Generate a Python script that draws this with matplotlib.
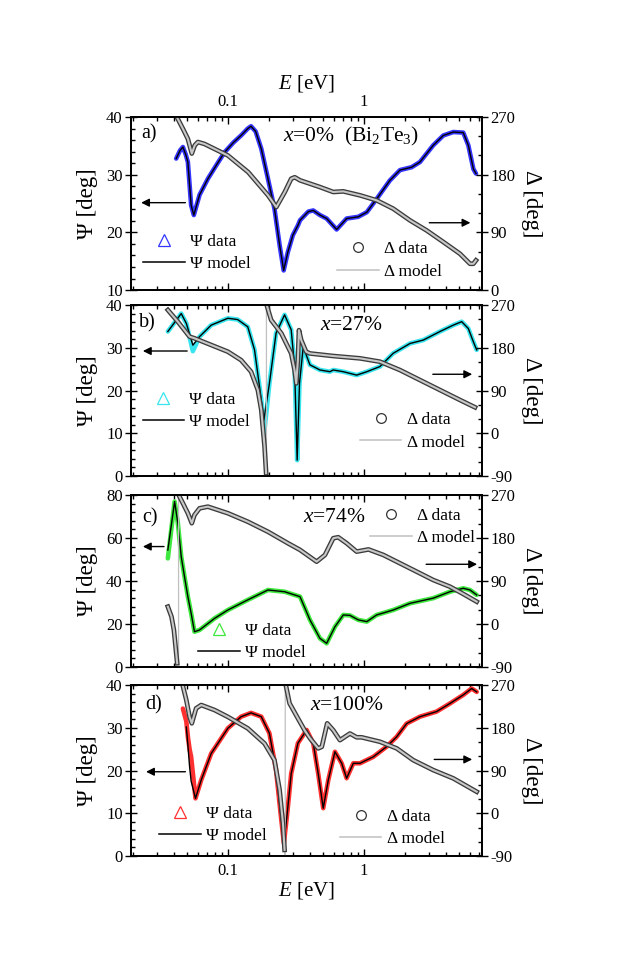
import numpy as np
import matplotlib
matplotlib.use('Agg')
import matplotlib.pyplot as plt
import matplotlib.patheffects as pe
from matplotlib.lines import Line2D
from matplotlib.ticker import MultipleLocator, FixedLocator, FixedFormatter, LogLocator, NullFormatter

plt.rcParams['font.family'] = ['Liberation Serif', 'DejaVu Serif']
plt.rcParams['mathtext.fontset'] = 'custom'
plt.rcParams['mathtext.rm'] = 'Liberation Serif'
plt.rcParams['mathtext.it'] = 'Liberation Serif:italic'
plt.rcParams['axes.unicode_minus'] = False

# ---- panel a) x=0% (Bi2Te3)
E_psi_a = [0.0417, 0.0445, 0.0467, 0.0490, 0.0508, 0.0537, 0.0562, 0.0619, 0.0713, 0.0830,
           0.0946, 0.110, 0.125, 0.140, 0.148, 0.160, 0.176, 0.197, 0.220, 0.240,
           0.257, 0.276, 0.300, 0.327, 0.339, 0.390, 0.424, 0.475, 0.532, 0.630,
           0.746, 0.908, 1.05, 1.24, 1.55, 1.84, 2.24, 2.58, 3.23, 3.83,
           4.54, 5.37, 5.85, 6.37, 6.66]
psi_data_a = [32.8, 34.2, 34.8, 33.5, 32.2, 24.7, 23.0, 26.5, 29.3, 31.8,
              33.9, 35.6, 36.8, 38.0, 38.4, 37.5, 34.5, 29.3, 24.1, 17.8,
              13.4, 16.6, 19.5, 21.2, 22.1, 23.6, 23.8, 23.0, 22.4, 20.5,
              22.4, 22.7, 23.5, 25.8, 29.0, 30.8, 31.3, 32.2, 35.1, 36.8,
              37.4, 37.3, 35.1, 31.0, 30.2]
psi_model_a = psi_data_a
E_del_a = [0.0417, 0.0467, 0.0508, 0.0543, 0.0571, 0.0602, 0.0673, 0.100, 0.141, 0.197,
           0.227, 0.262, 0.292, 0.310, 0.339, 0.475, 0.595, 0.705, 0.935, 1.24,
           1.64, 2.18, 2.89, 3.83, 5.08, 6.02, 6.37, 6.66]
del_a = [272, 251.7, 236, 213, 225.8, 231, 228, 210, 184, 148,
         129.5, 153, 173.7, 176, 171.2, 160.7, 153, 154, 147.8, 140,
         127, 108.7, 93, 75, 56.6, 41, 41, 46.3]

# ---- panel b) x=27%
E_psi_b = [0.0362, 0.0454, 0.0495, 0.0553, 0.0619, 0.0754, 0.100, 0.118, 0.140, 0.157,
           0.176, 0.184, 0.202, 0.226, 0.261, 0.292, 0.309, 0.323, 0.336, 0.358,
           0.401, 0.475, 0.562, 0.595, 0.705, 0.884, 1.05, 1.31, 1.64, 2.18,
           2.73, 3.62, 4.54, 5.23, 5.85, 6.37, 6.74]
psi_data_b = [33.8, 38.0, 35.7, 29.2, 32.6, 35.3, 36.9, 36.6, 34.9, 29.5,
              17.8, 9.5, 21.7, 33.4, 37.7, 34.2, 25.6, 3.7, 21.7, 30.2,
              26.0, 24.8, 24.4, 24.8, 24.4, 23.6, 24.4, 25.6, 28.7, 31.0,
              31.8, 33.8, 35.3, 36.1, 34.5, 31.4, 29.5]
psi_model_b = [33.8, 38.0, 35.7, 30.6, 32.6, 35.3, 36.9, 36.6, 34.9, 29.5,
               17.8, 13.1, 21.7, 33.4, 37.7, 34.2, 25.6, 3.7, 21.7, 30.2,
               26.0, 24.8, 24.4, 24.8, 24.4, 23.6, 24.4, 25.6, 28.7, 31.0,
               31.8, 33.8, 35.3, 36.1, 34.5, 31.4, 29.5]
E_del_b_low = [0.0362, 0.0429, 0.0523, 0.0568, 0.0754, 0.100, 0.125, 0.148, 0.166, 0.176, 0.186, 0.191]
del_b_low = [259.5, 234.8, 203.3, 200, 185.8, 171.7, 154, 129.6, 91, 49, -28, -84]
E_wrap_b = 0.192
E_del_b_high = [0.1945, 0.208, 0.247, 0.292, 0.309, 0.318, 0.327, 0.333, 0.346, 0.376,
                0.401, 0.595, 0.935, 1.31, 1.84, 2.58, 3.62, 5.08, 6.55]
del_b_high = [266.5, 238.4, 210.4, 168, 133, 105, 154, 217, 196, 171.7,
              168, 162.6, 157.7, 150.7, 133, 112, 91, 70, 54.6]

# ---- panel c) x=74%
E_psi_c = [0.0362, 0.0406, 0.0429, 0.0454, 0.0480, 0.0508, 0.0537, 0.0568, 0.0619, 0.0798,
           0.100, 0.140, 0.197, 0.261, 0.339, 0.401, 0.475, 0.532, 0.612, 0.705,
           0.789, 0.908, 1.05, 1.24, 1.64, 2.18, 3.23, 4.29, 5.37, 6.02, 6.74]
psi_data_c = [50.5, 76.9, 66.8, 51.3, 42.0, 32.7, 25.0, 16.4, 17.2, 22.6,
              26.5, 31.2, 35.8, 35.0, 32.7, 21.9, 13.3, 11.0, 18.7, 24.2,
              24.0, 21.9, 21.1, 24.2, 26.5, 29.6, 32.0, 35.0, 36.6, 35.8, 33.5]
psi_model_c = [54.4] + psi_data_c[1:]
E_del_c_low = [0.0362, 0.0385, 0.0401, 0.0410, 0.0424]
del_c_low = [36.2, 15.3, -12.5, -40, -82]
E_wrap_c = 0.0434
E_del_c_high = [0.0441, 0.0467, 0.0508, 0.0543, 0.0568, 0.0619, 0.0713, 0.100, 0.140, 0.197,
                0.276, 0.339, 0.449, 0.517, 0.595, 0.647, 0.746, 0.884, 1.08, 1.39,
                1.84, 2.44, 3.23, 4.29, 5.37, 6.74]
del_c_high = [266.5, 252.6, 231.7, 210.8, 228, 242, 245.5, 231.7, 214, 193,
              169, 155, 130.4, 144.4, 179.4, 181.5, 169, 151.4, 156, 144.4,
              127, 109.5, 92, 78, 62.8, 46.7]

# ---- panel d) x=100%
E_psi_d = [0.0467, 0.0495, 0.0508, 0.0523, 0.0537, 0.0578, 0.0637, 0.0754, 0.100, 0.125,
           0.148, 0.176, 0.202, 0.226, 0.244, 0.258, 0.273, 0.292, 0.327, 0.379,
           0.424, 0.461, 0.502, 0.547, 0.612, 0.686, 0.746, 0.835, 0.935, 1.17,
           1.47, 1.74, 2.06, 2.58, 3.42, 4.29, 5.37, 6.19, 6.74]
psi_data_d = [34.5, 31.5, 27.9, 25.0, 23.2, 13.5, 17.8, 24.0, 29.9, 32.6,
              33.5, 32.6, 28.7, 20.1, 10.0, 3.0, 10.0, 19.3, 26.4, 29.5,
              26.4, 19.3, 11.2, 17.8, 24.4, 21.7, 18.2, 21.7, 21.7, 23.2,
              25.6, 27.9, 31.0, 32.6, 33.8, 35.7, 37.7, 39.2, 38.4]
psi_model_d = [np.nan, 30.2, 26.0, 20.9, 17.5] + psi_data_d[5:]
E_del_d_low = [0.0465, 0.0495, 0.0523, 0.0543, 0.0584, 0.0637, 0.0798, 0.100, 0.140, 0.186,
               0.220, 0.240, 0.254, 0.261]
del_d_low = [270, 238.4, 203, 189.4, 221, 228, 217.4, 203, 178.8, 147,
             112, 49, -21, -77]
E_wrap_d = 0.264
E_del_d_high = [0.268, 0.284, 0.327, 0.366, 0.401, 0.461, 0.490, 0.537, 0.595, 0.666,
                0.789, 0.884, 0.960, 1.31, 1.74, 2.30, 3.23, 4.54, 6.74]
del_d_high = [266.5, 231.5, 200, 175, 158, 136.7, 140, 189.4, 175, 154,
              168, 160, 160, 150.7, 136.7, 112, 91, 73.5, 45.4]

panels = [
    dict(tag='a)', title=r'$x$=0%  (Bi$_2$Te$_3$)', color='#3535ff',
         E_psi=E_psi_a, psi_d=psi_data_a, psi_m=psi_model_a,
         del_branches=[(E_del_a, del_a)], wrap=None,
         ylim=(10, 40), ymaj=10, ymin=2, y2lim=(0, 270),
         rect=[0.2089, 0.7016, 0.5598, 0.1780], tagpos=(0.030, 0.905), titlepos=(0.433, 0.888),
         larrow=(0.163, 0.021, 0.505), rarrow=(0.842, 0.975, 0.389),
         psileg=(0.034, 0.214), delleg=(0.587, 0.171)),
    dict(tag='b)', title=r'$x$=27%', color='#38e4ee',
         E_psi=E_psi_b, psi_d=psi_data_b, psi_m=psi_model_b,
         del_branches=[(E_del_b_low, del_b_low), (E_del_b_high, del_b_high)], wrap=E_wrap_b,
         ylim=(0, 40), ymaj=10, ymin=2, y2lim=(-90, 270),
         rect=[0.2089, 0.5103, 0.5598, 0.1759], tagpos=(0.024, 0.893), titlepos=(0.538, 0.883),
         larrow=(0.168, 0.026, 0.731), rarrow=(0.852, 0.980, 0.595),
         psileg=(0.033, 0.381), delleg=(0.652, 0.261)),
    dict(tag='c)', title=r'$x$=74%', color='#3ee83e',
         E_psi=E_psi_c, psi_d=psi_data_c, psi_m=psi_model_c,
         del_branches=[(E_del_c_low, del_c_low), (E_del_c_high, del_c_high)], wrap=E_wrap_c,
         ylim=(0, 80), ymaj=20, ymin=4, y2lim=(-90, 270),
         rect=[0.2089, 0.3138, 0.5598, 0.1770], tagpos=(0.031, 0.866), titlepos=(0.491, 0.870),
         larrow=(0.102, 0.026, 0.700), rarrow=(0.833, 0.994, 0.597),
         psileg=(0.192, 0.147), delleg=(0.681, 0.813)),
    dict(tag='d)', title=r'$x$=100%', color='#ff3030',
         E_psi=E_psi_d, psi_d=psi_data_d, psi_m=psi_model_d,
         del_branches=[(E_del_d_low, del_d_low), (E_del_d_high, del_d_high)], wrap=E_wrap_d,
         ylim=(0, 40), ymaj=10, ymin=2, y2lim=(-90, 270),
         rect=[0.2089, 0.1193, 0.5598, 0.1759], tagpos=(0.041, 0.883), titlepos=(0.510, 0.883),
         larrow=(0.163, 0.035, 0.493), rarrow=(0.856, 0.980, 0.565),
         psileg=(0.081, 0.181), delleg=(0.595, 0.165)),
]

fig = plt.figure(figsize=(6.27, 9.72), dpi=100)
band_dark = '#3c3c3c'
band_light = '#c8c8c8'
model_gray = '#c0c0c0'

for k, p in enumerate(panels):
    ax = fig.add_axes(p['rect'])
    ax2 = ax.twinx()
    ax.set_xscale('log')
    ax.set_xlim(0.0194, 7.37)

    # Psi data (dense triangles -> colored band) and model
    ax.plot(p['E_psi'], p['psi_d'], color=p['color'], lw=3.3, solid_capstyle='round',
            solid_joinstyle='round', zorder=2)
    ax.plot(p['E_psi'], p['psi_m'], color='black', lw=1.0, solid_joinstyle='round', zorder=3)
    ax.set_ylim(*p['ylim'])

    # Delta model (thin gray, jumps at phase wrap) and data (dense circles)
    if p['wrap'] is None:
        mE, mD = p['del_branches'][0]
    else:
        (e1, d1), (e2, d2) = p['del_branches']
        mE = list(e1) + [p['wrap'], p['wrap']] + list(e2)
        mD = list(d1) + [p['y2lim'][0], p['y2lim'][1]] + list(d2)
    ax2.plot(mE, mD, color=model_gray, lw=0.9, zorder=1)
    for eb, db in p['del_branches']:
        ax2.plot(eb, db, color=band_light, lw=1.5, zorder=2, solid_joinstyle='round',
                 path_effects=[pe.Stroke(linewidth=3.4, foreground=band_dark, joinstyle='round'),
                               pe.Normal()])
    ax2.set_ylim(*p['y2lim'])

    # ticks
    ax.yaxis.set_major_locator(MultipleLocator(p['ymaj']))
    ax.yaxis.set_minor_locator(MultipleLocator(p['ymin']))
    ax2.yaxis.set_major_locator(MultipleLocator(90))
    ax2.yaxis.set_minor_locator(MultipleLocator(30))
    ax.xaxis.set_major_locator(FixedLocator([0.1, 1]))
    ax.xaxis.set_major_formatter(FixedFormatter(['0.1', '1']))
    ax.xaxis.set_minor_locator(LogLocator(base=10, subs=np.arange(2, 10), numticks=20))
    ax.xaxis.set_minor_formatter(NullFormatter())
    ax.tick_params(axis='x', which='both', direction='in', top=True, bottom=True,
                   labelsize=12, pad=5, width=1)
    ax.tick_params(axis='x', which='major', length=5)
    ax.tick_params(axis='x', which='minor', length=3)
    ax.tick_params(axis='y', which='major', direction='inout', length=8, width=1, labelsize=12, pad=2)
    ax.tick_params(axis='y', which='minor', direction='in', length=3, width=1)
    ax2.tick_params(axis='y', which='major', direction='inout', length=8, width=1, labelsize=12, pad=2)
    ax2.tick_params(axis='y', which='minor', direction='in', length=3, width=1)
    for s in ax2.spines.values():
        s.set_linewidth(1.3)
    for s in ax.spines.values():
        s.set_linewidth(1.3)

    if k == 0:
        ax.tick_params(axis='x', labeltop=True, labelbottom=False)
        ax.xaxis.set_label_position('top')
        ax.set_xlabel(r'$E$ [eV]', fontsize=15, labelpad=4)
    elif k == 3:
        ax.set_xlabel(r'$E$ [eV]', fontsize=15, labelpad=1)
    else:
        ax.tick_params(axis='x', labelbottom=False)

    ax.set_ylabel('Ψ [deg]', fontsize=16.5, labelpad=6)
    ax2.set_ylabel('Δ [deg]', fontsize=16.5, rotation=270, labelpad=19)

    ax.text(*p['tagpos'], p['tag'], transform=ax.transAxes, fontsize=14.5, va='center', ha='left')
    ax.text(*p['titlepos'], p['title'], transform=ax.transAxes, fontsize=15.5, va='center', ha='left')

    # arrows to axes
    x0, x1, y = p['larrow']
    ax.annotate('', xy=(x1, y), xytext=(x0, y), xycoords='axes fraction',
                arrowprops=dict(arrowstyle='-|>', color='black', lw=1, mutation_scale=12))
    x0, x1, y = p['rarrow']
    ax.annotate('', xy=(x1, y), xytext=(x0, y), xycoords='axes fraction',
                arrowprops=dict(arrowstyle='-|>', color='black', lw=1, mutation_scale=12))

    # legends
    h_psi = [Line2D([], [], ls='none', marker='^', mfc='none', mec=p['color'], ms=8, mew=0.9),
             Line2D([], [], color='black', lw=1.1)]
    h_del = [Line2D([], [], ls='none', marker='o', mfc='none', mec='#333333', ms=7, mew=0.9),
             Line2D([], [], color=model_gray, lw=1.1)]
    leg1 = ax2.legend(h_psi, ['Ψ data', 'Ψ model'], loc='center left',
                      bbox_to_anchor=p['psileg'], frameon=False, fontsize=12.5,
                      handlelength=2.4, handletextpad=0.3, labelspacing=0.35,
                      borderpad=0, borderaxespad=0, numpoints=1)
    ax2.add_artist(leg1)
    ax2.legend(h_del, ['Δ data', 'Δ model'], loc='center left',
               bbox_to_anchor=p['delleg'], frameon=False, fontsize=12.5,
               handlelength=2.4, handletextpad=0.3, labelspacing=0.35,
               borderpad=0, borderaxespad=0, numpoints=1)

fig.savefig('out.png', dpi=100)
